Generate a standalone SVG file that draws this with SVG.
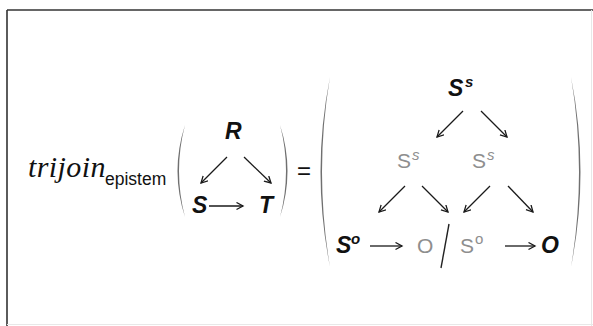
<svg xmlns="http://www.w3.org/2000/svg" width="593" height="326" viewBox="0 0 593 326">
<defs>
<style>
.blk{font-family:"Liberation Sans",Arial,sans-serif;font-weight:bold;font-style:italic;fill:#111}
.gry{font-family:"Liberation Sans",Arial,sans-serif;fill:#8e8e8e}
.sup{font-size:15px}
.big{font-size:23px}
.mid{font-size:21px}
.ar{stroke:#1a1a1a;stroke-width:1.3;fill:none;marker-end:url(#ah)}
.par{fill:#707070}
</style>
<marker id="ah" markerUnits="userSpaceOnUse" markerWidth="10" markerHeight="10" refX="7" refY="4" orient="auto">
<path d="M0.5,0.5 L7,4 L0.5,7.5" fill="none" stroke="#1a1a1a" stroke-width="1.3"/>
</marker>
</defs>
<rect width="593" height="326" fill="#fff"/>
<g id="frame">
<line x1="7" y1="10" x2="593" y2="10" stroke="#333" stroke-width="1.6"/>
<line x1="7" y1="10" x2="7" y2="326" stroke="#333" stroke-width="1.6"/>
<line x1="591.5" y1="10" x2="591.5" y2="326" stroke="#e8e8e8" stroke-width="1"/>
<line x1="7" y1="324.5" x2="593" y2="324.5" stroke="#e8e8e8" stroke-width="1"/>
</g>
<g id="lhs-label">
<text x="28" y="177" font-family="'Liberation Serif','Times New Roman',serif" font-style="italic" font-size="30" letter-spacing="0.4" fill="#111">trijoin</text>
<text x="105" y="185" font-family="'Liberation Sans',Arial,sans-serif" font-size="17.5" fill="#111">epistem</text>
</g>
<g id="parens">
<path class="par" d="M185,125 Q170,171 185,217 Q173,171 185,125 Z"/>
<path class="par" d="M280,125 Q295,171 280,217 Q292,171 280,125 Z"/>
<path class="par" d="M330,77 Q311,172 330,267 Q314,172 330,77 Z"/>
<path class="par" d="M571,77 Q590,172 571,267 Q587,172 571,77 Z"/>
</g>
<g id="equals">
<text x="297" y="179" font-family="'Liberation Sans',Arial,sans-serif" font-size="24" fill="#111">=</text>
</g>
<g id="node-R"><text class="blk big" x="225" y="139">R</text></g>
<g id="node-S"><text class="blk big" x="192" y="213">S</text></g>
<g id="node-T"><text class="blk big" x="259" y="213">T</text></g>
<g id="node-Ss-top"><text class="blk big" x="448" y="96">S</text><text class="blk sup" x="465" y="87">s</text></g>
<g id="node-Ss-left"><text class="gry mid" x="397" y="168">S</text><text class="gry sup" font-style="italic" x="412" y="160">s</text></g>
<g id="node-Ss-right"><text class="gry mid" x="472" y="168">S</text><text class="gry sup" font-style="italic" x="487" y="160">s</text></g>
<g id="node-So-bold"><text class="blk big" x="336" y="253">S</text><text class="blk sup" x="351" y="244">o</text></g>
<g id="node-O-gray"><text class="gry mid" x="417" y="253">O</text></g>
<g id="slash"><line x1="449" y1="224" x2="441" y2="268" stroke="#222" stroke-width="1.4"/></g>
<g id="node-So-gray"><text class="gry mid" x="460" y="253">S</text><text class="gry sup" x="475" y="244">o</text></g>
<g id="node-O-bold"><text class="blk big" x="541" y="253">O</text></g>
<g id="connectors">
<line class="ar" x1="227" y1="157" x2="201" y2="183"/>
<line class="ar" x1="244" y1="157" x2="271" y2="183"/>
<line class="ar" x1="209" y1="206" x2="243" y2="206"/>
<line class="ar" x1="463" y1="111" x2="437" y2="137"/>
<line class="ar" x1="481" y1="111" x2="507" y2="137"/>
<line class="ar" x1="405" y1="186" x2="379" y2="212"/>
<line class="ar" x1="422" y1="186" x2="448" y2="212"/>
<line class="ar" x1="490" y1="186" x2="464" y2="212"/>
<line class="ar" x1="508" y1="186" x2="533" y2="212"/>
<line class="ar" x1="370" y1="246" x2="402" y2="246"/>
<line class="ar" x1="505" y1="246" x2="535" y2="246"/>
</g>
</svg>
